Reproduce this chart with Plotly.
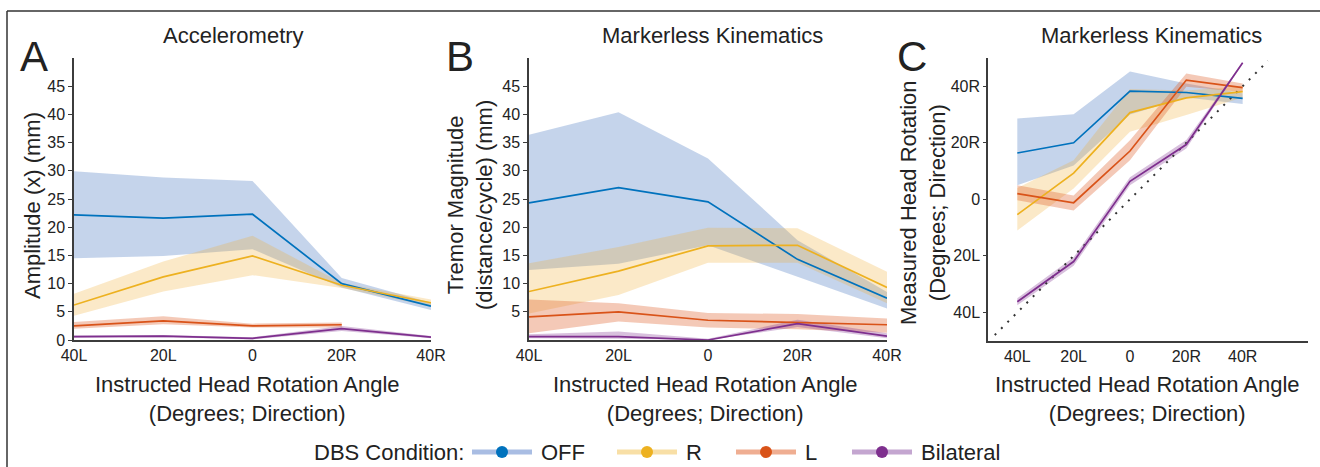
import plotly.graph_objects as go

W, H = 1320, 467

# ---------------- data ----------------
angles = [-40, -20, 0, 20, 40]
angle_labels = ["40L", "20L", "0", "20R", "40R"]
conditions = ["OFF", "R", "L", "Bilateral"]

# Panel A - Accelerometry amplitude (mm)
A_off_mean = [22.2, 21.6, 22.3, 10.0, 6.0]
A_off_lo = [14.5, 14.9, 16.1, 9.3, 5.3]
A_off_hi = [29.9, 28.8, 28.2, 11.0, 6.6]
A_r_mean = [6.2, 11.2, 14.9, 9.7, 6.6]
A_r_lo = [4.3, 8.6, 11.5, 9.2, 6.0]
A_r_hi = [8.2, 13.9, 18.5, 10.1, 7.2]
A_l_x = [-40, -20, 0, 20]
A_l_mean = [2.5, 3.4, 2.5, 2.7]
A_l_lo = [2.0, 2.8, 2.2, 2.2]
A_l_hi = [3.2, 4.2, 2.9, 3.1]
A_b_mean = [0.6, 0.7, 0.3, 2.0, 0.5]
A_b_lo = [0.4, 0.5, 0.1, 1.6, 0.3]
A_b_hi = [0.8, 0.9, 0.5, 2.5, 0.7]

# Panel B - Markerless kinematics tremor magnitude (mm)
B_off_mean = [24.3, 27.0, 24.5, 14.3, 7.4]
B_off_lo = [12.4, 13.5, 16.8, 11.2, 5.6]
B_off_hi = [36.4, 40.4, 32.2, 17.7, 8.5]
B_r_mean = [8.6, 12.2, 16.7, 16.8, 9.3]
B_r_lo = [4.7, 8.0, 13.7, 13.7, 6.5]
B_r_hi = [13.6, 16.5, 19.9, 19.8, 12.1]
B_l_mean = [4.1, 5.0, 3.5, 3.1, 2.7]
B_l_lo = [1.2, 3.3, 2.2, 1.9, 1.3]
B_l_hi = [7.2, 6.5, 4.8, 4.6, 3.8]
B_b_mean = [0.6, 0.6, 0.0, 2.9, 0.7]
B_b_lo = [0.3, 0.2, 0.0, 2.3, 0.3]
B_b_hi = [1.0, 1.5, 0.2, 3.6, 1.2]

# Panel C - Measured head rotation (degrees; + = right)
C_off_mean = [16.4, 20.0, 38.3, 37.8, 35.7]
C_off_lo = [5.0, 12.0, 30.0, 36.0, 33.7]
C_off_hi = [28.6, 30.1, 45.2, 41.0, 37.5]
C_r_mean = [-5.4, 9.3, 30.7, 35.9, 38.1]
C_r_lo = [-11.0, 3.8, 23.9, 29.8, 36.0]
C_r_hi = [4.0, 13.8, 39.0, 38.5, 40.0]
C_l_mean = [2.0, -1.2, 17.1, 42.2, 39.5]
C_l_lo = [-0.3, -3.9, 13.8, 39.8, 38.0]
C_l_hi = [5.0, 1.4, 20.9, 44.5, 41.0]
C_b_mean = [-36.2, -22.0, 6.4, 19.4, 48.3]
C_b_lo = [-37.5, -23.5, 5.0, 18.0, 48.0]
C_b_hi = [-35.0, -20.5, 7.8, 21.0, 48.6]
identity_x = [-48, 49]

# ---------------- styles ----------------
line_colors = ["#0072BD", "#EDB120", "#D95319", "#7E2F8E"]
band_colors = ["rgba(94,135,200,0.36)", "rgba(240,175,50,0.27)",
               "rgba(222,90,35,0.33)", "rgba(126,47,142,0.30)"]
legend_line_colors = ["#a9bde3", "#f8dfa6", "#efae92", "#c4a6d0"]
FONT = "Liberation Sans, Arial, sans-serif"
TXT = "#222222"
AX = "#3c3c3c"

fig = go.Figure()

panels = [
    ("x", "y", [
        (angles, A_off_mean, A_off_lo, A_off_hi),
        (angles, A_r_mean, A_r_lo, A_r_hi),
        (A_l_x, A_l_mean, A_l_lo, A_l_hi),
        (angles, A_b_mean, A_b_lo, A_b_hi),
    ]),
    ("x2", "y2", [
        (angles, B_off_mean, B_off_lo, B_off_hi),
        (angles, B_r_mean, B_r_lo, B_r_hi),
        (angles, B_l_mean, B_l_lo, B_l_hi),
        (angles, B_b_mean, B_b_lo, B_b_hi),
    ]),
    ("x3", "y3", [
        (angles, C_off_mean, C_off_lo, C_off_hi),
        (angles, C_r_mean, C_r_lo, C_r_hi),
        (angles, C_l_mean, C_l_lo, C_l_hi),
        (angles, C_b_mean, C_b_lo, C_b_hi),
    ]),
]

for xa, ya, series in panels:
    for i, (xs, m, lo, hi) in enumerate(series):
        fig.add_trace(go.Scatter(
            x=list(xs) + list(xs)[::-1], y=list(hi) + list(lo)[::-1],
            fill="toself", fillcolor=band_colors[i], mode="lines",
            line=dict(width=0), hoverinfo="skip", showlegend=False,
            xaxis=xa, yaxis=ya))
    if xa == "x3":
        fig.add_trace(go.Scatter(
            x=identity_x, y=identity_x, mode="lines",
            line=dict(color="#333333", width=2, dash="2px,7px"),
            showlegend=False, xaxis=xa, yaxis=ya))
    for i, (xs, m, lo, hi) in enumerate(series):
        fig.add_trace(go.Scatter(
            x=xs, y=m, mode="lines", name=conditions[i],
            line=dict(color=line_colors[i], width=1.7),
            showlegend=False, xaxis=xa, yaxis=ya))


def px_x(p):
    return p / W


def px_y(p):
    return 1 - p / H


axis_common = dict(showline=True, linecolor=AX, linewidth=1.5, showgrid=False,
                   zeroline=False, automargin=False,
                   tickfont=dict(family=FONT, size=16, color=TXT),
                   tickcolor=AX)

fig.update_layout(
    template="none",
    width=W, height=H, margin=dict(l=0, r=0, t=0, b=0, pad=0), autosize=False,
    paper_bgcolor="white", plot_bgcolor="white", showlegend=False,
    font=dict(family=FONT, color=TXT),
    xaxis=dict(domain=[px_x(74), px_x(431)], range=[-40, 40], tickvals=angles,
               ticktext=angle_labels, ticks="", anchor="y", **axis_common),
    yaxis=dict(domain=[px_y(340), px_y(58)], range=[0, 50],
               tickvals=[0, 5, 10, 15, 20, 25, 30, 35, 40, 45],
               ticks="outside", ticklen=4, anchor="x", **axis_common),
    xaxis2=dict(domain=[px_x(529), px_x(887)], range=[-40, 40], tickvals=angles,
                ticktext=angle_labels, ticks="", anchor="y2", **axis_common),
    yaxis2=dict(domain=[px_y(340), px_y(58)], range=[0, 50],
                tickvals=[5, 10, 15, 20, 25, 30, 35, 40, 45],
                ticks="outside", ticklen=4, anchor="x2", **axis_common),
    xaxis3=dict(domain=[px_x(988), px_x(1308)], range=[-50.4, 63.2], tickvals=angles,
                ticktext=angle_labels, ticks="", anchor="y3", **axis_common),
    yaxis3=dict(domain=[px_y(340.7), px_y(58)], range=[-50, 50], tickvals=angles,
                ticktext=angle_labels, ticks="outside", ticklen=3, anchor="x3",
                **axis_common),
)

annotations = []


def txt(x, y, s, size, angle=0, xanchor="center"):
    annotations.append(dict(
        x=px_x(x), y=px_y(y), xref="paper", yref="paper", text=s,
        showarrow=False, textangle=angle, xanchor=xanchor, yanchor="middle",
        font=dict(family=FONT, size=size, color=TXT)))


# titles
txt(233, 35, "Accelerometry", 22)
txt(712, 35, "Markerless Kinematics", 22)
txt(1151, 35, "Markerless Kinematics", 22)
# panel letters
txt(34, 56, "A", 42)
txt(460, 56, "B", 42)
txt(912, 56, "C", 42)
# y titles
txt(32, 206, "Amplitude (x) (mm)", 22, -90)
txt(470, 205, "Tremor Magnitude<br>(distance/cycle) (mm)", 22, -90)
txt(923, 203, "Measured Head Rotation<br>(Degrees; Direction)", 22, -90)
# x titles
for cx in (248, 705, 1147):
    txt(cx, 399, "Instructed Head Rotation Angle<br>(Degrees; Direction)", 22)

# legend (manual)
legend_title = "DBS Condition:"
legend_y = 452
txt(466, legend_y, legend_title, 22, xanchor="right")
legend_x0 = [472, 617, 736, 852]
shapes = []
for i, name in enumerate(conditions):
    x0 = legend_x0[i]
    shapes.append(dict(type="line", xref="paper", yref="paper",
                       x0=px_x(x0), x1=px_x(x0 + 60), y0=px_y(legend_y), y1=px_y(legend_y),
                       line=dict(color=legend_line_colors[i], width=5)))
    r = 6
    cx = x0 + 30
    shapes.append(dict(type="circle", xref="paper", yref="paper",
                       x0=px_x(cx - r), x1=px_x(cx + r),
                       y0=px_y(legend_y + r), y1=px_y(legend_y - r),
                       fillcolor=line_colors[i], line=dict(width=0)))
    txt(x0 + 67, legend_y, name, 22, xanchor="left")

# outer frame: top and left edges
shapes.append(dict(type="line", xref="paper", yref="paper",
                   x0=px_x(7), x1=1.02, y0=px_y(11), y1=px_y(11),
                   line=dict(color="#333333", width=1.5)))
shapes.append(dict(type="line", xref="paper", yref="paper",
                   x0=px_x(7), x1=px_x(7), y0=px_y(11), y1=-0.02,
                   line=dict(color="#333333", width=1.5)))

fig.update_layout(annotations=annotations, shapes=shapes)
fig.write_html(
    "out.html",
    config={"responsive": False, "displayModeBar": False},
    post_script="document.body.style.margin='0';document.body.style.overflow='hidden';",
)
